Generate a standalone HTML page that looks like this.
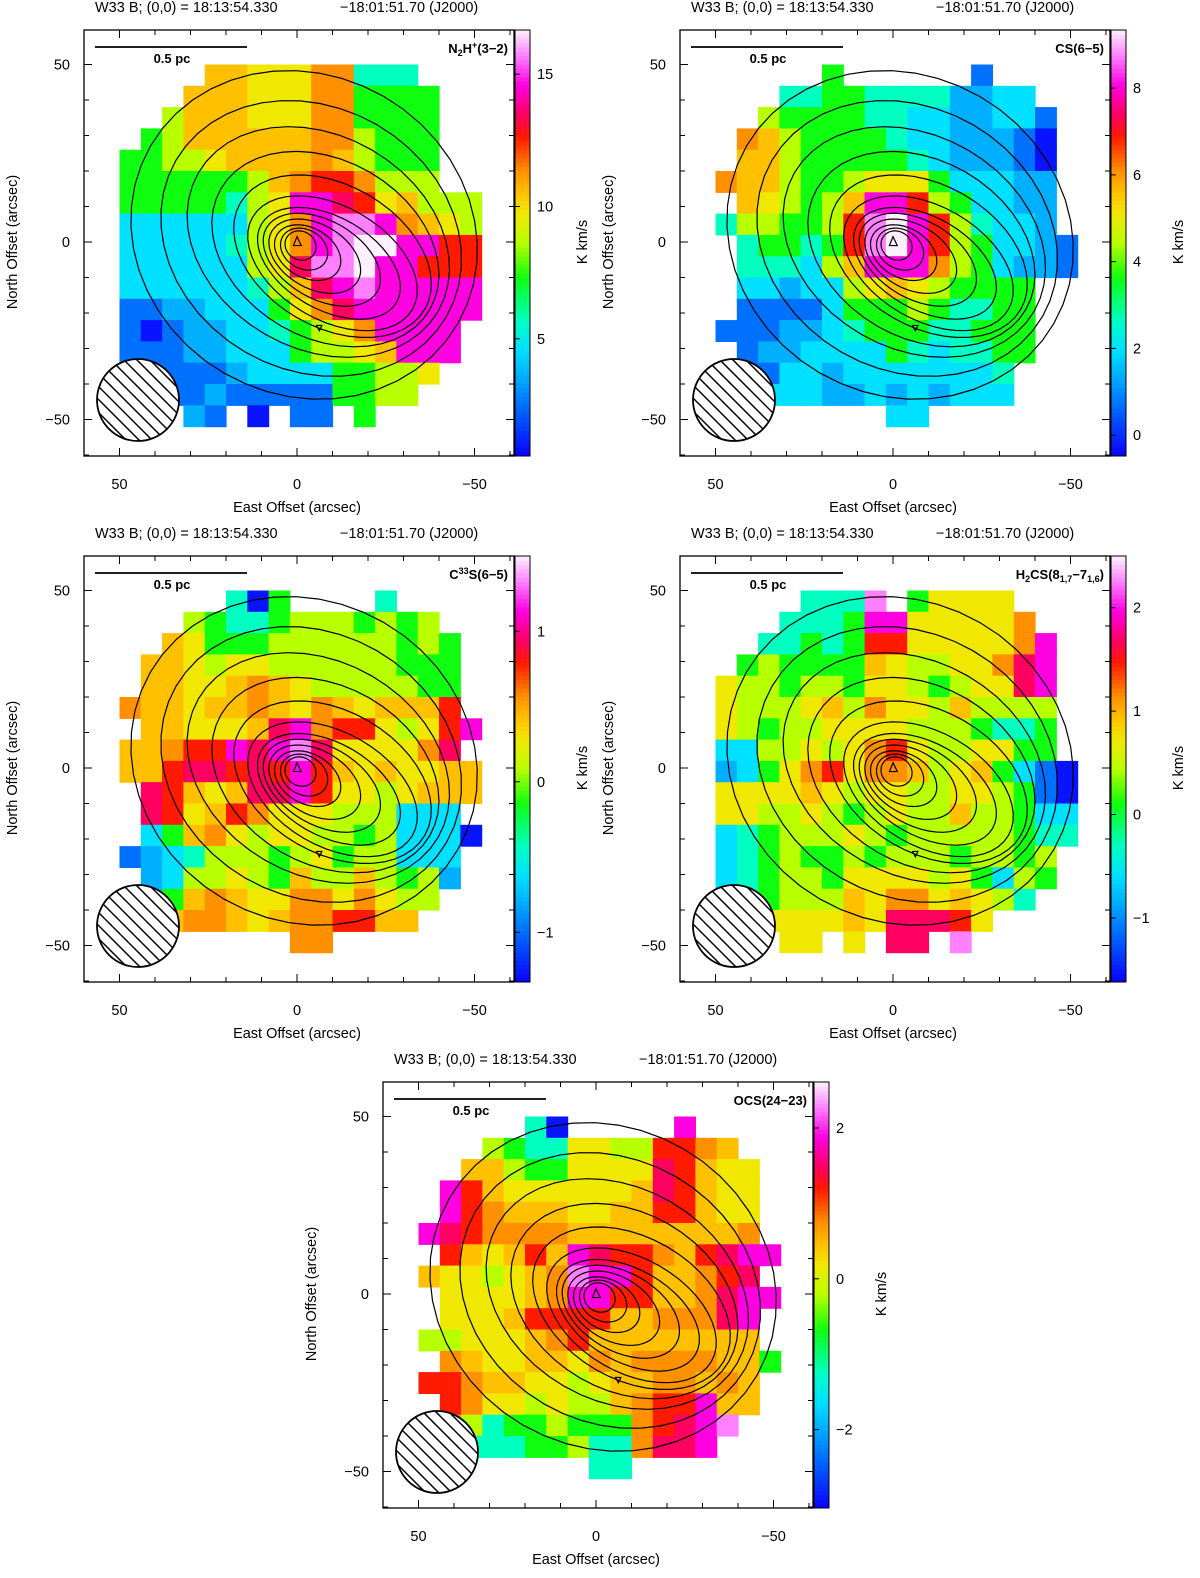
<!DOCTYPE html>
<html><head><meta charset="utf-8"><title>W33 B maps</title>
<style>
html,body{margin:0;padding:0;background:#fff;}
svg{display:block;font-family:"Liberation Sans",Arial,sans-serif;}
</style></head>
<body>
<svg id="fig" xmlns="http://www.w3.org/2000/svg" width="1200" height="1578" viewBox="0 0 1200 1578"></svg>
<script>
// ---------- data ----------
const gridN2H = [
"....yyYYYOOttt...",
"...yyyYYYOOGGGG..",
"..gyyyYYYOOGGGG..",
".GgyyyyyyOOgGGG..",
"GGggYyyyyOygGGG..",
"GGGGGGgyORROggg..",
"GGGGGtgYMMrRYyggg",
"CCCCCCgYOMPPMOyYg",
"CCCCCtgYOMPWWMMRR",
"CCCCCCgYrPPWMMRRR",
"CCCCCCtgyrMPMMMMM",
"bbccCCCGYOrMMMMMM",
"bBbccCCtGgYOMMMM.",
"bbbccCCCGggYyMMM.",
".bbbbcCCCCGGggY..",
"..bbcbbbbbGGgg...",
"...cb.B.bb.G....."];
const gridCS = [
".....G......b....",
"...ttGGttttccCC..",
"..gGGGGttCCccCCb.",
".OygGGGGtCCcccbB.",
".yygGGGGGtCcccbB.",
"OyygGGgYYYGCCCcc.",
".yYgGgyMMRgGCCcc.",
"tggGGgRPWMRgtCCc.",
".tGGtGRPWMRgGCCcb",
".tttCgyMMMOgGCccb",
".CCcCCgYyYgGGGG..",
".bbbbCGGGgGttGG..",
"bbbccCtGGGttGGG..",
".bccCCCCGtCttGG..",
".bbCCcCCCCCCCt...",
"..CCCccCcCcCCC...",
"........CC......."];
const gridC33S = [
".....tBG....t....",
"...gGttGgggGgGg..",
"..yYGGGggggggGgG.",
".yyYgYYggggggGGG.",
".yyYYyOyYgggggGG.",
"OyyYyyOyYOyYyyyR.",
".yyYYYyrMORRYgYRM",
"yyORRMrMPrYYYYOr.",
"yyRrrRrRMRyYyYYyy",
".rRyYyrrMRYYgYyyy",
".rRYyROYYYgggCCC.",
".CGyOYgYYggGgCCCB",
"bcCtgggGgYGggCCC.",
".cCggYgGyggygGgc.",
".cGyOyYYOOYOYgg..",
"..yOOyYyOORRyy...",
"........OO......."];
const gridH2CS = [
"....tttP.GYYYY...",
"...tttGMMYYYYYO..",
"..ttGtGRRYYYYYOM.",
".GgGGGGyYggYYOrM.",
"YggGggGYYgGgYYrM.",
"YgggYygOYYgygggg.",
"YgGggYYYYgggGttG.",
"CCggYgYORYggYYGG.",
"cCGYORYOOygYyGCbB",
"YYYYyYgYYggYYgGbB",
"YYggYgGgYggyggGCC",
"CtGgggYgGgggggGtt",
"CtGgGGgGgggGggGg.",
"CtGggGYYYYgYGCgG.",
".tGgggyYOOYyYgt..",
"..YYYYyYrrrRY....",
"...YY.Y.rr.P....."];
const gridOCS = [
".....tB.....M....",
"...gGttYYggRROy..",
"..yygGGYYYYrRyYY.",
".MRyYYYYYYyrRyYY.",
".MROyyyYYyyRRyYY.",
"MrROOOOyyyyyyyyO.",
".RyYyRyMrRROyRrMM",
"yYYgYyOPMMRyyORr.",
".YYYYyOMMRRyyOrMM",
".YYYyRRRRyyOOOrM.",
"ggYYYyORyyyyyyyy.",
".OyYYyyYOyOOOOyyG",
"RROyyYYgYyyOOyOy.",
".ROYYgYggyORRMyy.",
".OgtGGgGGGORrMP..",
"..tttGGgttOrrM...",
"........tt......."];
const levelCodes = ["B","b","c","C","t","G","g","Y","y","O","R","r","M","P","W"];
const levelFractions = [0.02,0.12,0.19,0.25,0.32,0.42,0.50,0.57,0.62,0.67,0.75,0.80,0.87,0.94,1.0];
const cbarMin = [0.57,-0.48,-1.33,-1.62,-3.04];
const cbarMax = [16.67,9.34,1.50,2.50,2.61];
const cbarTicks = [[5,10,15],[0,2,4,6,8],[-1,0,1],[-1,0,1,2],[-2,0,2]];
const axisMajor = [50,0,-50];
const axisMinor = [60,40,30,20,10,-10,-20,-30,-40,-60];
const contourCx = [-2,-4,-6,-8,-10,-10,-9,-7,-5,-3,-2,-1];
const contourCy = [2,1,0,-2,-4,-6,-6,-5,-4,-3,-2,-1];
const contourA  = [50,44,39,34,30,26,22,18,14,10,7,4.5];
const contourB  = [45,37,30,25,20,16,13,11,9,7,5.5,4];
// ---------- layout ----------
const panelX = [84,680,84,680,383];
const panelY = [30,30,556,556,1082];
const grids = [gridN2H,gridCS,gridC33S,gridH2CS,gridOCS];
const panelKeys = ["n2h","cs","c33s","h2cs","ocs"];
const PW=430, PH=426, SC=3.55, CX0=213, CY0=212;

const cmStops=[[0,"#0a00ff"],[0.12,"#0070ff"],[0.19,"#00b0ff"],[0.25,"#00e0ff"],[0.32,"#00ffc0"],[0.42,"#10ff10"],[0.50,"#b8ff00"],[0.57,"#f0e800"],[0.62,"#ffc000"],[0.67,"#ff9000"],[0.75,"#ff1a00"],[0.80,"#ff0060"],[0.87,"#ff00e0"],[0.94,"#ff80ff"],[1.0,"#fff0ff"]];
function hex(h){return [parseInt(h.substr(1,2),16),parseInt(h.substr(3,2),16),parseInt(h.substr(5,2),16)];}
function cmap(f){
  f=Math.max(0,Math.min(1,f));
  for(let i=1;i<cmStops.length;i++){
    if(f<=cmStops[i][0]){
      const a=cmStops[i-1],b=cmStops[i];const t=(f-a[0])/(b[0]-a[0]);
      const ca=hex(a[1]),cb=hex(b[1]);
      return "rgb("+ca.map((v,k)=>Math.round(v+(cb[k]-v)*t)).join(",")+")";
    }
  }
  return cmStops[cmStops.length-1][1];
}
const NS="http://www.w3.org/2000/svg";
const svg=document.getElementById("fig");
function mk(tag,attrs,parent){const e=document.createElementNS(NS,tag);for(const k in attrs)e.setAttribute(k,attrs[k]);(parent||svg).appendChild(e);return e;}
const defs=mk("defs",{});

function drawPanel(p){
  const ox=panelX[p], oy=panelY[p];
  const xs=v=>ox+CX0-v*SC, ys=v=>oy+CY0-v*SC;
  const lo=cbarMin[p], hi=cbarMax[p];
  const g=mk("g",{});
  
  
  const t1=mk("text",{x:ox+11,y:oy-18,"font-size":14.5,fill:"#000"},g);
  t1.textContent="W33 B; (0,0) = 18:13:54.330";
  
  
  const t2=mk("text",{x:ox+256,y:oy-18,"font-size":14.5,fill:"#000"},g);
  t2.textContent="\u221218:01:51.70 (J2000)";
  
  
  const hm=mk("g",{},g);
  
  
  const grid=grids[p];
  for(let r=0;r<grid.length;r++){
    for(let c=0;c<grid[r].length;c++){
      const ch=grid[r][c]; const li=levelCodes.indexOf(ch); if(li<0) continue;
      const val=lo+levelFractions[li]*(hi-lo);
      const x0=50-6*c, y0=50-6*r;
      const rect=mk("rect",{x:xs(x0),y:ys(y0),width:(xs(x0-6)-xs(x0))+0.6,height:(ys(y0-6)-ys(y0))+0.6,fill:cmap((val-lo)/(hi-lo))},hm);
      
      
    }
  }
  const cg=mk("g",{fill:"none",stroke:"#000","stroke-width":1.2},g);
  
  
  const rot=Math.PI/6;
  for(let k=0;k<contourCx.length;k++){
    let pts=[];
    for(let i=0;i<48;i++){
      const th=i/48*2*Math.PI;
      const u=contourA[k]*Math.cos(th), v=contourB[k]*Math.sin(th);
      const dx=u*Math.cos(rot)-v*Math.sin(rot), dy=u*Math.sin(rot)+v*Math.cos(rot);
      pts.push(xs(contourCx[k]+dx).toFixed(1)+","+ys(contourCy[k]+dy).toFixed(1));
    }
    const pl=mk("polygon",{points:pts.join(" ")},cg);
    
    
  }
  const tri=mk("polygon",{points:[[xs(1),ys(-1)],[xs(-1.2),ys(-1)],[xs(0),ys(1.5)]].map(q=>q.join(",")).join(" ")},cg);
  
  
  const tri2=mk("polygon",{points:[[xs(-5.5),ys(-23.5)],[xs(-7),ys(-23.5)],[xs(-6.3),ys(-25)]].map(q=>q.join(",")).join(" ")},cg);
  
  
  const bx=ox+54, by=oy+370, br=41;
  const cp=mk("clipPath",{id:"beamclip"+p},defs);
  mk("circle",{cx:bx,cy:by,r:br},cp);
  const bg=mk("g",{},g);
  
  
  mk("circle",{cx:bx,cy:by,r:br,fill:"#fff"},bg);
  const hg=mk("g",{"clip-path":"url(#beamclip"+p+")",stroke:"#000","stroke-width":1.5},bg);
  for(let k=-6;k<=6;k++){
    mk("line",{x1:bx-60+k*13,y1:by-60,x2:bx+60+k*13,y2:by+60},hg);
  }
  mk("circle",{cx:bx,cy:by,r:br,fill:"none",stroke:"#000","stroke-width":1.8},bg);
  const sb=mk("line",{x1:ox+11,y1:oy+17,x2:ox+163,y2:oy+17,stroke:"#000","stroke-width":1.8},g);
  
  
  const sbt=mk("text",{x:ox+88,y:oy+33,"font-size":13,"font-weight":"bold","text-anchor":"middle"},g);
  sbt.textContent="0.5 pc";
  
  
  const ml=mk("text",{x:ox+424,y:oy+23,"font-size":13,"font-weight":"bold","text-anchor":"end"},g);
  
  
  const labels=[
    [["N",0],["2",1],["H",0],["+",2],["(3\u22122)",0]],
    [["CS(6\u22125)",0]],
    [["C",0],["33",2],["S(6\u22125)",0]],
    [["H",0],["2",1],["CS(8",0],["1,7",1],["\u22127",0],["1,6",1],[")",0]],
    [["OCS(24\u221223)",0]]];
  for(const [s,m] of labels[p]){
    const ts=mk("tspan",{},ml); ts.textContent=s;
    if(m===1){ts.setAttribute("font-size","9");ts.setAttribute("dy","3");}
    if(m===2){ts.setAttribute("font-size","9");ts.setAttribute("dy","-5");}
    if(m===0 && ml.childNodes.length>1){
      const prev=ml.childNodes[ml.childNodes.length-2];
      const pd=prev.getAttribute("dy"); if(pd) ts.setAttribute("dy",String(-parseFloat(pd)));
    }
  }
  const fr=mk("rect",{x:ox,y:oy,width:PW,height:PH,fill:"none",stroke:"#000","stroke-width":1.3},g);
  
  
  const tk=mk("g",{stroke:"#000","stroke-width":1},g);
  
  
  const allT=axisMajor.map(v=>[v,8]).concat(axisMinor.map(v=>[v,5]));
  for(const [v,L] of allT){
    const x=xs(v), y=ys(v);
    if(x>ox && x<ox+PW){mk("line",{x1:x,y1:oy,x2:x,y2:oy+L},tk);mk("line",{x1:x,y1:oy+PH,x2:x,y2:oy+PH-L},tk);}
    if(y>oy && y<oy+PH){mk("line",{x1:ox,y1:y,x2:ox+L,y2:y},tk);mk("line",{x1:ox+PW,y1:y,x2:ox+PW-L,y2:y},tk);}
  }
  for(const v of axisMajor){
    const lx=mk("text",{x:xs(v),y:oy+PH+33,"font-size":14.5,"text-anchor":"middle"},g);
    lx.textContent=v<0?"\u2212"+(-v):String(v);
    
    
    const ly=mk("text",{x:ox-14,y:ys(v)+5,"font-size":14.5,"text-anchor":"end"},g);
    ly.textContent=v<0?"\u2212"+(-v):String(v);
    
    
  }
  const xt=mk("text",{x:ox+CX0,y:oy+PH+56,"font-size":14.5,"text-anchor":"middle"},g);
  xt.textContent="East Offset (arcsec)";
  
  
  const yt=mk("text",{x:0,y:0,"font-size":14.5,"text-anchor":"middle",transform:"translate("+(ox-67)+","+(oy+CY0)+") rotate(-90)"},g);
  yt.textContent="North Offset (arcsec)";
  
  
  const cb=mk("g",{},g);
  
  
  const cbx=ox+PW+1, cbw=15, N=100;
  for(let i=0;i<N;i++){
    mk("rect",{x:cbx,y:oy+PH-(i+1)*PH/N,width:cbw,height:PH/N+0.5,fill:cmap((i+0.5)/N)},cb);
  }
  mk("rect",{x:cbx,y:oy,width:cbw,height:PH,fill:"none",stroke:"#000","stroke-width":1},cb);
  const cys=v=>oy+PH-(v-lo)/(hi-lo)*PH;
  for(const v of cbarTicks[p]){
    const y=cys(v);
    mk("line",{x1:cbx,y1:y,x2:cbx+5,y2:y,stroke:"#000"},cb);
    const tl=mk("text",{x:cbx+22,y:y+5,"font-size":14.5},cb);
    tl.textContent=v<0?"\u2212"+(-v):String(v);
    
    
  }
  const ul=mk("text",{x:0,y:0,"font-size":14.5,"text-anchor":"middle",transform:"translate("+(ox+PW+73)+","+(oy+CY0)+") rotate(-90)"},cb);
  ul.textContent="K km/s";
  
  
}
for(let p=0;p<5;p++) drawPanel(p);
</script>
</body></html>
